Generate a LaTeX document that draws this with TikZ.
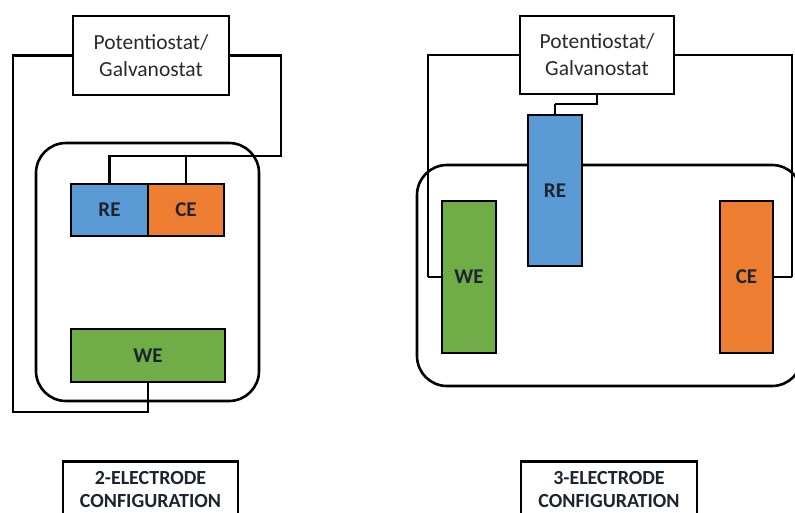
\documentclass[tikz,border=0pt]{standalone}
\usepackage{fontspec}
\setmainfont{Carlito}
\definecolor{reblue}{HTML}{5B9BD5}
\definecolor{ceorange}{HTML}{ED7D31}
\definecolor{wegreen}{HTML}{70AD47}
\definecolor{labtext}{HTML}{1C2430}
\definecolor{pottext}{HTML}{2A2A2A}
\begin{document}
\begin{tikzpicture}[x=1pt,y=-1pt,
  wire/.style={line width=2.8pt, line join=miter},
  potbox/.style={draw, line width=2.8pt, fill=white, inner sep=0pt, align=center,
    text=pottext, font=\fontsize{21.5}{27}\selectfont},
  elec/.style={draw, line width=2.8pt, inner sep=0pt, text=labtext,
    font=\bfseries\fontsize{21}{25}\selectfont},
  cellbox/.style={draw, line width=2.6pt, rounded corners=30pt},
  capbox/.style={draw, line width=2.8pt, inner sep=0pt, align=center, text=labtext,
    font=\bfseries\fontsize{20}{23.5}\selectfont}]
\useasboundingbox (0,0) rectangle (795,512);
\clip (0,0) rectangle (795,512);

% ---------- 2-electrode ----------
\draw[cellbox] (36,143) rectangle (259,401);
\node[potbox, minimum width=156pt, minimum height=79pt] (pot1) at (151,55.5) {Potentiostat/\\Galvanostat};
\node[elec, fill=reblue, minimum width=77pt, minimum height=52pt] (re1) at (109.5,210) {RE};
\node[elec, fill=ceorange, minimum width=76pt, minimum height=52pt] (ce1) at (186,210) {CE};
\node[elec, fill=wegreen, minimum width=154pt, minimum height=53pt] (we1) at (148,355.5) {WE};
\coordinate (w1) at (13,412);
\coordinate (r1) at (281,156);
\draw[wire] (pot1.west) -| (w1) -| (we1.south);
\draw[wire] (pot1.east) -| (r1) -| (re1.north);
\draw[wire] (ce1.north) -- (ce1.north |- r1);
\node[capbox, minimum width=175pt, minimum height=56pt] (lab1) at (150.5,489.5) {2-ELECTRODE\\CONFIGURATION};

% ---------- 3-electrode ----------
\draw[cellbox] (417,165) rectangle (802,386);
\node[potbox, minimum width=154pt, minimum height=78pt] (pot2) at (597,55) {Potentiostat/\\Galvanostat};
\coordinate (w2) at (428,277);
\coordinate (c2) at (792,277);
\coordinate (k2) at (555,104);
\draw[wire] (pot2.west) -| (w2);
\draw[wire] (pot2.east) -| (c2);
\draw[wire] (pot2.south) |- (k2);
\node[elec, fill=reblue, minimum width=54pt, minimum height=151pt] (re2) at (555,190.5) {RE};
\node[elec, fill=wegreen, minimum width=54pt, minimum height=152pt] (we2) at (469,277) {WE};
\node[elec, fill=ceorange, minimum width=53pt, minimum height=152pt] (ce2) at (746.5,277) {CE};
\draw[wire] (w2) -- (we2.west);
\draw[wire] (c2) -- (ce2.east);
\draw[wire] (k2) -- (re2.north);
\node[capbox, minimum width=176pt, minimum height=56pt] (lab2) at (609,489.5) {3-ELECTRODE\\CONFIGURATION};
\end{tikzpicture}
\end{document}
